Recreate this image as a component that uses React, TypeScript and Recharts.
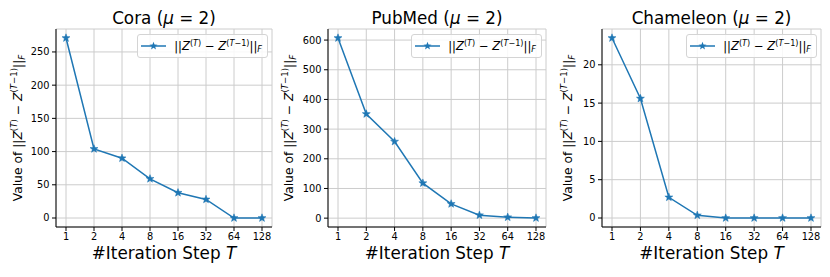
import React from "react";
import {
  LineChart,
  Line,
  XAxis,
  YAxis,
  CartesianGrid,
  Legend,
} from "recharts";

const steps = ["1", "2", "4", "8", "16", "32", "64", "128"];

const coraValues = [271, 104, 90, 59, 38, 28, 0, 0];
const pubmedValues = [607, 351, 258, 118, 48, 10, 3, 0.5];
const chameleonValues = [23.5, 15.6, 2.7, 0.35, 0, 0, 0, 0];

const coraTicks = [0, 50, 100, 150, 200, 250];
const pubmedTicks = [0, 100, 200, 300, 400, 500, 600];
const chameleonTicks = [0, 5, 10, 15, 20];

const FONT = "'DejaVu Sans', sans-serif";
const BLUE = "#1f77b4";
const GRID = "#cccccc";

// matplotlib-style 5% margins around the data range
function padDomain(values: number[]): [number, number] {
  const lo = Math.min(...values);
  const hi = Math.max(...values);
  const m = (hi - lo) * 0.05;
  return [lo - m, hi + m];
}

function starPath(cx: number, cy: number, r: number) {
  const inner = r * 0.42;
  let d = "";
  for (let i = 0; i < 10; i++) {
    const rad = i % 2 === 0 ? r : inner;
    const a = -Math.PI / 2 + (i * Math.PI) / 5;
    d += `${i === 0 ? "M" : "L"}${cx + rad * Math.cos(a)},${cy + rad * Math.sin(a)}`;
  }
  return d + "Z";
}

const StarDot = (props: any) => {
  const { cx, cy, index } = props;
  if (cx == null || cy == null) return null;
  return <path key={index} d={starPath(cx, cy, 4.2)} fill={BLUE} stroke={BLUE} strokeWidth={0.5} />;
};

const supStyle: React.CSSProperties = {
  fontSize: "0.7em",
  verticalAlign: "0.55em",
  lineHeight: 0,
};
const subStyle: React.CSSProperties = {
  fontSize: "0.7em",
  verticalAlign: "-0.25em",
  lineHeight: 0,
};

const LegendBox = () => (
  <div
    style={{
      display: "flex",
      alignItems: "center",
      border: "1px solid #d4d4d4",
      borderRadius: 3,
      background: "rgba(255,255,255,0.85)",
      padding: "0 5px 0 3px",
      height: 22,
      fontFamily: FONT,
      fontSize: 11.6,
      color: "#000",
      whiteSpace: "nowrap",
    }}
  >
    <svg width={25} height={10} style={{ overflow: "visible" }}>
      <line x1={0} y1={5} x2={25} y2={5} stroke={BLUE} strokeWidth={1.5} />
      <path d={starPath(12.5, 5, 4.2)} fill={BLUE} />
    </svg>
    <span style={{ marginLeft: 8 }}>
      ||<i>Z</i>
      <sup style={supStyle}>
        (<i>T</i>)
      </sup>
      {" − "}
      <i>Z</i>
      <sup style={supStyle}>
        (<i>T</i>−1)
      </sup>
      ||<sub style={subStyle}><i>F</i></sub>
    </span>
  </div>
);

const YLabel = (shift: number) => (props: any) => {
  const vb = props.viewBox || {};
  const x = vb.x + vb.width - shift;
  const y = vb.y + vb.height / 2;
  return (
    <text
      x={x}
      y={y}
      transform={`rotate(-90 ${x} ${y})`}
      textAnchor="middle"
      fontFamily={FONT}
      fontSize={12.3}
      fill="#000"
    >
      <tspan>Value of ||</tspan>
      <tspan fontStyle="italic">Z</tspan>
      <tspan dy={-5} fontSize={8.6}>(</tspan>
      <tspan fontSize={8.6} fontStyle="italic">T</tspan>
      <tspan fontSize={8.6}>)</tspan>
      <tspan dy={5}> − </tspan>
      <tspan fontStyle="italic">Z</tspan>
      <tspan dy={-5} fontSize={8.6}>(</tspan>
      <tspan fontSize={8.6} fontStyle="italic">T</tspan>
      <tspan fontSize={8.6}>−1)</tspan>
      <tspan dy={5}>||</tspan>
      <tspan dy={3} fontSize={8.6} fontStyle="italic">F</tspan>
    </text>
  );
};

const XLabel = (props: any) => {
  const vb = props.viewBox || {};
  return (
    <text
      x={vb.x + vb.width / 2}
      y={vb.y + 32}
      textAnchor="middle"
      fontFamily={FONT}
      fontSize={16.8}
      fill="#000"
    >
      #Iteration Step <tspan fontStyle="italic">T</tspan>
    </text>
  );
};

interface PanelProps {
  name: string;
  values: number[];
  ticks: number[];
  left: number;
  width: number;
  plotLeft: number;
  plotRight: number;
  labelShift: number;
}

const TOP = 29;
const BOTTOM = 227;
const H = 277;
const YW = 30;
const XH = 20;

function Panel({ name, values, ticks, left, width, plotLeft, plotRight, labelShift }: PanelProps) {
  const data = steps.map((s, i) => ({ step: s, value: values[i] }));
  const domain = padDomain(values);
  const tickStyle = { fontSize: 9.8, fill: "#000", fontFamily: FONT };
  return (
    <div style={{ position: "absolute", left, top: 0, width, height: H }}>
      <div
        style={{
          position: "absolute",
          left: plotLeft - left - 20,
          width: plotRight - plotLeft + 40,
          top: 10,
          textAlign: "center",
          fontFamily: FONT,
          fontSize: 16.8,
          lineHeight: "16px",
          color: "#000",
          whiteSpace: "nowrap",
        }}
      >
        {name} (<i>μ</i> = 2)
      </div>
      <LineChart
        width={width}
        height={H}
        data={data}
        margin={{
          top: TOP,
          bottom: H - BOTTOM - XH,
          left: plotLeft - left - YW,
          right: left + width - plotRight,
        }}
      >
        <CartesianGrid stroke={GRID} strokeWidth={1} />
        <XAxis
          dataKey="step"
          height={XH}
          padding={{ left: 10, right: 10 }}
          tick={tickStyle}
          tickSize={4}
          tickMargin={2.5}
          tickLine={{ stroke: "#000" }}
          axisLine={{ stroke: "#000" }}
          interval={0}
          label={{ content: XLabel }}
        />
        <XAxis
          xAxisId="top"
          orientation="top"
          dataKey="step"
          height={0}
          tick={false}
          tickLine={false}
          axisLine={{ stroke: "#000" }}
        />
        <YAxis
          type="number"
          width={YW}
          domain={domain}
          ticks={ticks}
          allowDataOverflow
          tick={tickStyle}
          tickSize={4}
          tickMargin={2.5}
          tickLine={{ stroke: "#000" }}
          axisLine={{ stroke: "#000" }}
          label={{ content: YLabel(labelShift) }}
        />
        <YAxis
          yAxisId="right"
          orientation="right"
          type="number"
          width={0}
          domain={domain}
          tick={false}
          tickLine={false}
          axisLine={{ stroke: "#000" }}
        />
        <Line
          dataKey="value"
          stroke={BLUE}
          strokeWidth={1.5}
          dot={StarDot}
          activeDot={false}
          isAnimationActive={false}
        />
        <Legend
          layout="horizontal"
          verticalAlign="middle"
          align="center"
          content={() => <LegendBox />}
          wrapperStyle={{
            top: 34,
            left: "auto",
            right: left + width - plotRight + 4,
            width: "auto",
            height: "auto",
          }}
        />
      </LineChart>
    </div>
  );
}

export default function App() {
  return (
    <div
      style={{
        position: "absolute",
        left: 0,
        top: 0,
        width: 830,
        height: 277,
        background: "#fff",
        overflow: "hidden",
      }}
    >
      <Panel name="Cora" values={coraValues} ticks={coraTicks} left={0} width={280} plotLeft={56} plotRight={272} labelShift={34} />
      <Panel name="PubMed" values={pubmedValues} ticks={pubmedTicks} left={280} width={275} plotLeft={328} plotRight={546} labelShift={35} />
      <Panel name="Chameleon" values={chameleonValues} ticks={chameleonTicks} left={555} width={275} plotLeft={602} plotRight={821} labelShift={30} />
    </div>
  );
}
